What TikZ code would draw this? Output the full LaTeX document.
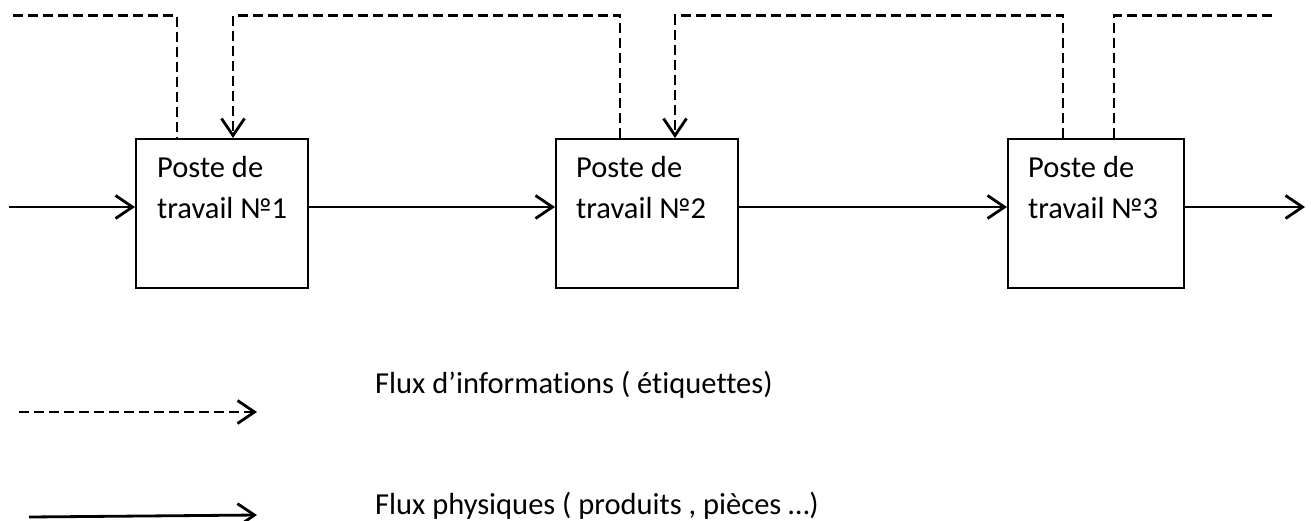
\documentclass[tikz,border=0pt]{standalone}
\usepackage{fontspec}
\setmainfont{Carlito}[Ligatures={NoCommon}]
\usetikzlibrary{arrows.meta,calc}
\begin{document}
\begin{tikzpicture}[x=1pt,y=-1pt,
  box/.style={draw,line width=1.8pt,minimum width=172pt,minimum height=149pt,inner sep=0pt,anchor=north west},
  lbl/.style={anchor=base west,inner sep=0pt,font=\fontsize{30.5}{41}\selectfont},
  flow/.style={line width=2.8pt,-{Straight Barb[length=17pt,width=23pt]}},
  info/.style={line width=2.8pt,dash pattern=on 10pt off 5pt},
  infoarrow/.style={info,-{Straight Barb[length=17pt,width=23pt]}}]
\useasboundingbox (0,0) rectangle (1311,520);
% boxes
\node[box] (b1) at (135,138) {};
\node[box,minimum width=182pt] (b2) at (555,138) {};
\node[box,minimum width=176pt] (b3) at (1007,138) {};
% labels
\node[lbl] (t1a) at (157,177) {Poste de};
\node[lbl] (t1b) at (157,218) {travail №1};
\node[lbl] (t2a) at (576,177) {Poste de};
\node[lbl] (t2b) at (576,218) {travail №2};
\node[lbl] (t3a) at (1028,177) {Poste de};
\node[lbl] (t3b) at (1028,218) {travail №3};
% physical flow
\coordinate (in) at (9,207);
\coordinate (out) at (1305,207);
\draw[flow] (in) -- (in -| b1.west);
\draw[flow] (b1.east |- in) -- (b2.west |- in);
\draw[flow] (b2.east |- in) -- (b3.west |- in);
\draw[flow] (b3.east |- in) -- (out);
% information flow
\coordinate (s1) at (13,15.5);
\coordinate (d1) at (177,138);
\coordinate (a1) at (233,138);
\coordinate (d2) at (620,138);
\coordinate (a2) at (675,138);
\coordinate (d3) at (1063,138);
\coordinate (u3) at (1114,138);
\coordinate (e3) at (1273,15.5);
\draw[info] (s1) -| (d1);
\draw[infoarrow] (d2) |- (a1 |- s1) -- (a1);
\draw[infoarrow] (d3) |- (a2 |- s1) -- (a2);
\draw[info] (u3) |- (e3);
% legend
\coordinate (l1s) at (19,412);
\coordinate (l1e) at (257,412);
\coordinate (l2s) at (29,517);
\coordinate (l2e) at (257,515);
\draw[infoarrow] (l1s) -- (l1e);
\draw[flow] (l2s) -- (l2e);
\node[lbl] (leg1) at (375,393) {Flux d’informations ( étiquettes)};
\node[lbl] (leg2) at (375,514) {Flux physiques ( produits , pièces …)};
\end{tikzpicture}
\end{document}
